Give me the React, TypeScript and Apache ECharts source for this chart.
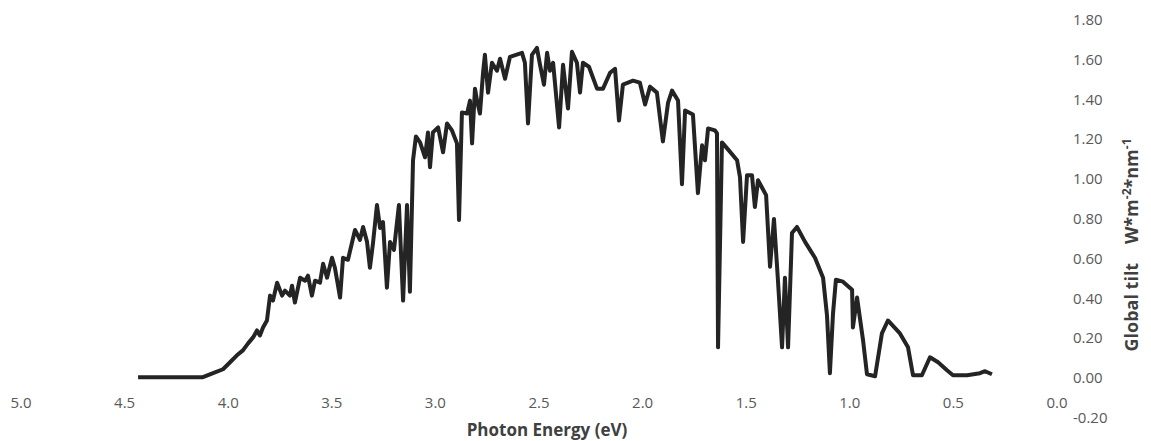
import React, { useEffect, useRef } from "react";
import * as echarts from "echarts";

// Photon energy (eV), high to low
const energy: number[] = [
  4.435, 4.122, 4.073, 4.025, 3.991, 3.958, 3.929, 3.904, 3.88, 3.861,
  3.847, 3.832, 3.813, 3.798, 3.784, 3.764, 3.74, 3.726, 3.702, 3.692,
  3.678, 3.653, 3.629, 3.615, 3.596, 3.581, 3.557, 3.542, 3.523, 3.499,
  3.485, 3.46, 3.446, 3.422, 3.388, 3.364, 3.349, 3.33, 3.316, 3.301,
  3.282, 3.267, 3.253, 3.234, 3.219, 3.2, 3.176, 3.156, 3.137, 3.123,
  3.113, 3.108, 3.094, 3.074, 3.05, 3.036, 3.026, 3.012, 2.987, 2.963,
  2.944, 2.92, 2.896, 2.886, 2.872, 2.847, 2.833, 2.823, 2.809, 2.799,
  2.785, 2.77, 2.761, 2.746, 2.727, 2.703, 2.688, 2.664, 2.64, 2.611,
  2.582, 2.568, 2.553, 2.534, 2.51, 2.495, 2.476, 2.461, 2.447, 2.432,
  2.403, 2.384, 2.36, 2.341, 2.317, 2.302, 2.288, 2.259, 2.22, 2.191,
  2.157, 2.133, 2.114, 2.095, 2.046, 2.013, 1.988, 1.964, 1.931, 1.902,
  1.877, 1.858, 1.829, 1.81, 1.795, 1.757, 1.733, 1.713, 1.699, 1.684,
  1.651, 1.641, 1.636, 1.617, 1.588, 1.544, 1.53, 1.515, 1.496, 1.472,
  1.458, 1.443, 1.404, 1.385, 1.366, 1.347, 1.327, 1.313, 1.298, 1.279,
  1.255, 1.216, 1.168, 1.129, 1.11, 1.096, 1.081, 1.067, 1.033, 0.989,
  0.985, 0.965, 0.936, 0.917, 0.878, 0.845, 0.816, 0.758, 0.719, 0.695,
  0.652, 0.613, 0.574, 0.531, 0.502, 0.434, 0.372, 0.347, 0.314,
];

// Global tilt irradiance (W*m-2*nm-1)
const globalTilt: number[] = [
  0.0, 0.0, 0.02, 0.04, 0.075, 0.11, 0.135, 0.17, 0.2, 0.235,
  0.21, 0.25, 0.285, 0.41, 0.385, 0.475, 0.41, 0.435, 0.41, 0.46,
  0.375, 0.5, 0.485, 0.51, 0.41, 0.485, 0.475, 0.57, 0.5, 0.6,
  0.55, 0.4, 0.6, 0.59, 0.74, 0.69, 0.755, 0.68, 0.55, 0.675,
  0.865, 0.75, 0.78, 0.45, 0.68, 0.64, 0.865, 0.385, 0.865, 0.43,
  0.865, 1.09, 1.21, 1.18, 1.105, 1.23, 1.055, 1.23, 1.255, 1.13,
  1.275, 1.24, 1.175, 0.79, 1.33, 1.325, 1.39, 1.175, 1.45, 1.39,
  1.325, 1.53, 1.62, 1.43, 1.58, 1.54, 1.6, 1.5, 1.61, 1.62,
  1.63, 1.58, 1.275, 1.62, 1.655, 1.57, 1.47, 1.63, 1.54, 1.58,
  1.255, 1.57, 1.35, 1.635, 1.58, 1.43, 1.58, 1.56, 1.45, 1.45,
  1.53, 1.55, 1.29, 1.47, 1.49, 1.48, 1.37, 1.46, 1.43, 1.185,
  1.38, 1.44, 1.39, 0.97, 1.34, 1.32, 0.925, 1.165, 1.09, 1.25,
  1.24, 1.225, 0.15, 1.18, 1.145, 1.09, 1.005, 0.68, 1.015, 1.015,
  0.855, 0.99, 0.915, 0.555, 0.795, 0.49, 0.15, 0.5, 0.15, 0.725,
  0.755, 0.68, 0.6, 0.5, 0.31, 0.02, 0.32, 0.49, 0.48, 0.44,
  0.25, 0.4, 0.185, 0.015, 0.005, 0.22, 0.285, 0.22, 0.15, 0.01,
  0.01, 0.1, 0.075, 0.035, 0.01, 0.01, 0.02, 0.03, 0.015,
];

const xTitle = "Photon Energy (eV)";
const yTitleParts = ["Global tilt    W*m", "-2", "*nm", "-1"];

export default function App() {
  const ref = useRef<HTMLDivElement>(null);

  useEffect(() => {
    if (!ref.current) return;
    const chart = echarts.init(ref.current, undefined, { renderer: "svg" });
    const data = energy.map((e, i) => [e, globalTilt[i]]);
    chart.setOption({
      animation: false,
      backgroundColor: "#ffffff",
      grid: {
        left: 21,
        right: 94,
        top: 19,
        bottom: 24,
        containLabel: false,
        outerBoundsMode: "none",
      },
      xAxis: {
        type: "value",
        min: 0,
        max: 5,
        interval: 0.5,
        inverse: true,
        position: "bottom",
        axisLine: { show: false, onZero: false },
        axisTick: { show: false },
        splitLine: { show: false },
        axisLabel: {
          margin: -23,
          color: "#595959",
          fontFamily: "Open Sans",
          fontSize: 15,
          formatter: (v: number) => v.toFixed(1),
        },
        name: xTitle,
        nameLocation: "middle",
        nameGap: 3,
        nameMoveOverlap: false,
        nameTextStyle: {
          fontFamily: "Open Sans",
          fontWeight: "bold",
          fontSize: 17,
          lineHeight: 18,
          color: "#404040",
          padding: [0, 0, 0, 16],
        },
      },
      yAxis: {
        type: "value",
        position: "right",
        min: -0.2,
        max: 1.8,
        interval: 0.2,
        axisLine: { show: false, onZero: false },
        axisTick: { show: false },
        splitLine: { show: false },
        axisLabel: {
          margin: 16,
          align: "left",
          color: "#595959",
          fontFamily: "Open Sans",
          fontSize: 15,
          formatter: (v: number) => v.toFixed(2),
        },
      },
      graphic: [
        {
          type: "text",
          x: 1131,
          y: 245,
          rotation: Math.PI / 2,
          style: {
            text: `{a|${yTitleParts[0]}}{s|${yTitleParts[1]}}{a|${yTitleParts[2]}}{s|${yTitleParts[3]}}`,
            align: "center",
            verticalAlign: "middle",
            rich: {
              a: {
                fontFamily: "Open Sans",
                fontWeight: "bold",
                fontSize: 18,
                lineHeight: 22,
                fill: "#404040",
              },
              s: {
                fontFamily: "Open Sans",
                fontWeight: "bold",
                fontSize: 12,
                lineHeight: 12,
                verticalAlign: "top",
                fill: "#404040",
              },
            },
          },
        },
      ],
      series: [
        {
          type: "line",
          data,
          showSymbol: false,
          symbol: "none",
          smooth: false,
          lineStyle: { color: "#242424", width: 4, join: "round" },
          z: 3,
        },
      ],
    });
    return () => chart.dispose();
  }, []);

  return (
    <div
      ref={ref}
      style={{ position: "fixed", left: 0, top: 0, width: 1151, height: 441, background: "#fff" }}
    />
  );
}
